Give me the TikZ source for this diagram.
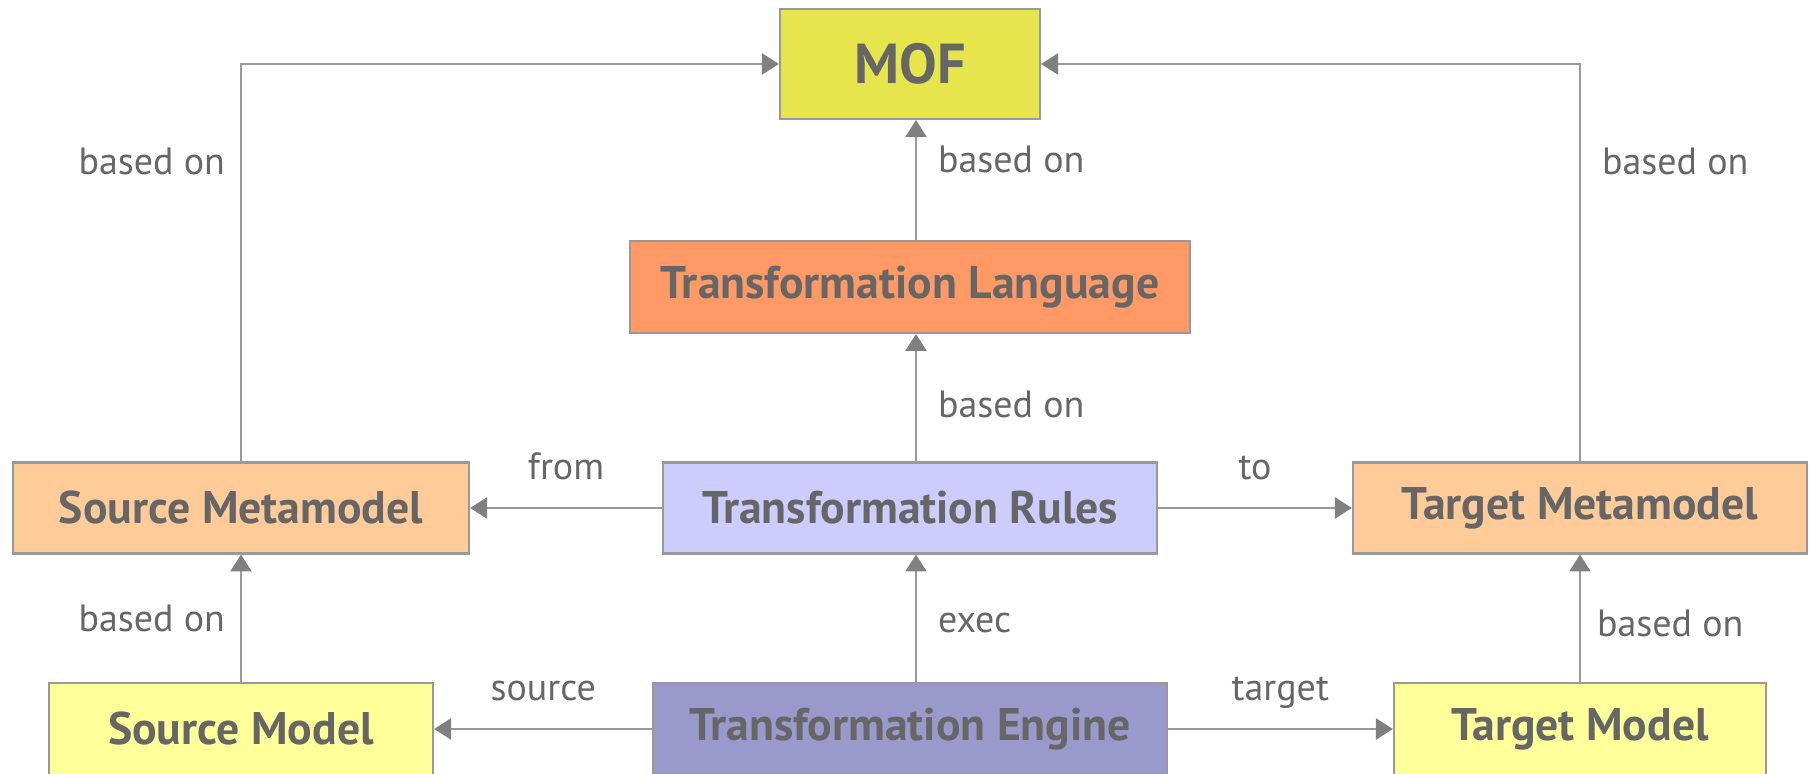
\documentclass[tikz,border=0pt]{standalone}
\usepackage{fontspec}
\setmainfont{PT Sans}
\usetikzlibrary{arrows.meta}
\definecolor{txt}{HTML}{666666}
\definecolor{edge}{HTML}{999999}
\definecolor{tipc}{HTML}{808080}
\definecolor{mofc}{HTML}{E6E64C}
\definecolor{langc}{HTML}{FF9966}
\definecolor{metac}{HTML}{FFCC99}
\definecolor{rulec}{HTML}{CCCCFF}
\definecolor{engc}{HTML}{9999CC}
\definecolor{modelc}{HTML}{FFFF99}

\begin{document}
\begin{tikzpicture}[
  x=0.01cm, y=-0.01cm,
  every node/.append style={text=txt},
  box/.style={draw=edge, line width=0.6pt, inner sep=0pt,
    font=\fontsize{13}{15}\selectfont\bfseries},
  link/.style={draw=edge, line width=0.6pt,
    -{Triangle[length=4.8pt,width=6pt,color=tipc]}},
  lbl/.style={inner sep=0pt, font=\fontsize{10.8}{12}\selectfont},
  lblr/.style={lbl, anchor=west, xshift=2.1mm},
  lbll/.style={lbl, anchor=east, xshift=-1.5mm},
  lbla/.style={lbl, anchor=base, yshift=2.8mm},
]
\useasboundingbox (0,0) rectangle (1815,774);
% --- top: MOF and the language ---
\node[box, fill=mofc, minimum width=2.6cm, minimum height=1.1cm,
  font=\fontsize{16}{18}\selectfont\bfseries] (mof) at (910,64) {MOF};
\node[box, fill=langc, minimum width=5.6cm, minimum height=0.92cm] (lang) at (910,287) {Transformation Language};
% --- middle row ---
\node[box, fill=metac, minimum width=4.56cm, minimum height=0.91cm] (srcmm) at (241,508) {Source Metamodel};
\node[box, fill=rulec, minimum width=4.94cm, minimum height=0.91cm] (rules) at (910,508) {Transformation Rules};
\node[box, fill=metac, minimum width=4.54cm, minimum height=0.91cm] (tgtmm) at (1580,508) {Target Metamodel};
% --- bottom row (cut off by the page edge) ---
\node[box, fill=modelc, minimum width=3.84cm, minimum height=0.92cm] (srcm) at (241,729) {Source Model};
\node[box, fill=engc, minimum width=5.13cm, minimum height=0.92cm] (eng) at (910,729) {Transformation Engine};
\node[box, fill=modelc, minimum width=3.72cm, minimum height=0.92cm] (tgtm) at (1580,729) {Target Model};
% --- based on links ---
\draw[link] (srcmm.north) |- node[lbll, pos=0.377] (l1) {based on} (mof.west);
\draw[link] (tgtmm.north) |- node[lblr, pos=0.377] (l2) {based on} (mof.east);
\draw[link] ([xshift=0.06cm]lang.north) -- node[lblr, pos=0.67] (l3) {based on} ([xshift=0.06cm]mof.south);
\draw[link] ([xshift=0.06cm]rules.north) -- node[lblr, pos=0.45] (l4) {based on} ([xshift=0.06cm]lang.south);
\draw[link] (srcm.north) -- node[lbll, pos=0.5] (l5) {based on} (srcmm.south);
\draw[link] (tgtm.north) -- node[lblr, pos=0.46, xshift=-0.05cm] (l6) {based on} (tgtmm.south);
% --- rules and engine ---
\draw[link] ([xshift=0.06cm]eng.north) -- node[lblr, pos=0.46] (l7) {exec} ([xshift=0.06cm]rules.south);
\draw[link] (rules.west) -- node[lbla] (l8) {from} (srcmm.east);
\draw[link] (rules.east) -- node[lbla] (l9) {to} (tgtmm.west);
\draw[link] (eng.west) -- node[lbla] (l10) {source} (srcm.east);
\draw[link] (eng.east) -- node[lbla] (l11) {target} (tgtm.west);
\end{tikzpicture}
\end{document}
